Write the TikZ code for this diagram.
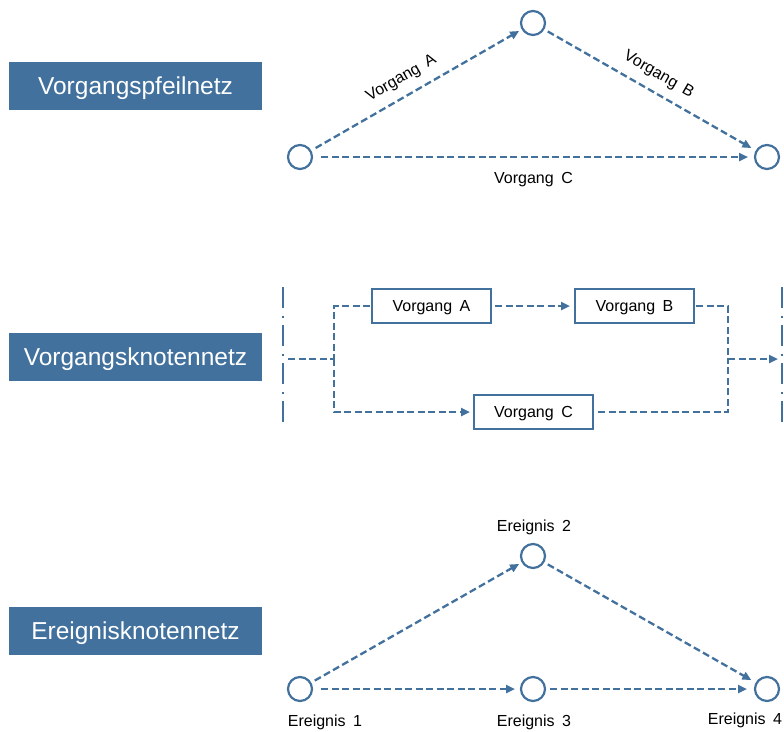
\documentclass[tikz,border=0pt]{standalone}
\usepackage{fontspec}
\setmainfont[WordSpace=1.7]{Liberation Sans}
\usetikzlibrary{arrows.meta}
\definecolor{netblue}{RGB}{66,113,157}
\tikzset{
  x=1pt, y=-1pt,
  titlebox/.style={fill=netblue, text=white, minimum width=253pt, minimum height=48pt,
    inner sep=0pt, text depth=0pt, font=\fontsize{24.5}{28}\selectfont},
  event/.style={circle, draw=netblue, line width=2.2pt, minimum size=24pt, inner sep=0pt, outer sep=0pt},
  taskbox/.style={rectangle, draw=netblue, line width=2.2pt, fill=white, minimum width=119pt,
    minimum height=34pt, inner sep=0pt, outer sep=0pt, text depth=0pt,
    font=\fontsize{16}{19}\selectfont},
  conn/.style={draw=netblue, line width=2.3pt, dash pattern=on 7pt off 3.5pt},
  arr/.style={conn, -{Triangle[length=9pt,width=8pt]}},
  divider/.style={draw=netblue, line width=2.6pt, dash pattern=on 21pt off 7.5pt on 2pt off 7.5pt},
  lbl/.style={inner sep=0pt, font=\fontsize{16}{19}\selectfont, text=black}
}
\begin{document}
\begin{tikzpicture}
\useasboundingbox (0,0) rectangle (784,731);

% section titles
\node[titlebox] (t1) at (135.5,86) {Vorgangspfeilnetz};
\node[titlebox] (t2) at (135.5,357) {Vorgangsknotennetz};
\node[titlebox] (t3) at (135.5,631) {Ereignisknotennetz};

% activity-on-arrow network
\node[event] (p1) at (300,157) {};
\node[event] (p2) at (533,23) {};
\node[event] (p3) at (767,157) {};
\draw[arr, shorten <=6pt, shorten >=4pt] (p1) -- (p2)
  node[lbl, pos=0.47, sloped, above=9pt] {Vorgang A};
\draw[arr, shorten <=5pt, shorten >=6pt] (p2) -- (p3)
  node[lbl, pos=0.5, sloped, above=9pt] {Vorgang B};
\draw[arr, shorten <=9pt, shorten >=7pt] (p1) -- (p3)
  node[lbl, pos=0.5, below=14pt] {Vorgang C};

% activity-on-node network
\coordinate (dl1) at (283,287);
\coordinate (dl2) at (283,426);
\coordinate (dr1) at (782,287);
\coordinate (dr2) at (782,426);
\draw[divider] (dl1) -- (dl2);
\draw[divider] (dr1) -- (dr2);
\node[taskbox] (va) at (431.5,306) {Vorgang A};
\node[taskbox] (vb) at (634.5,306) {Vorgang B};
\node[taskbox] (vc) at (533.5,412) {Vorgang C};
\coordinate (start) at (288,359);
\coordinate (jl) at (334,359);
\coordinate (jr) at (728,359);
\coordinate (finish) at (778,359);
\draw[conn] (start) -- (jl);
\draw[conn] (va.west) ++(-2,0) -| (jl);
\draw[arr, shorten >=4pt] (jl) |- (vc.west);
\draw[arr, shorten <=4pt, shorten >=5pt] (va.east) -- (vb.west);
\draw[conn, shorten <=5pt] (vc.east) -| (jr);
\draw[conn] (vb.east) ++(2,0) -| (jr);
\draw[arr] (jr) -- (finish);

% event-on-node network
\node[event] (e1) at (300,689) {};
\node[event] (e2) at (533,556) {};
\node[event] (e3) at (533,689) {};
\node[event] (e4) at (767,689) {};
\draw[arr, shorten <=5pt, shorten >=4pt] (e1) -- (e2);
\draw[arr, shorten <=5pt, shorten >=6pt] (e2) -- (e4);
\draw[arr, shorten <=9pt, shorten >=6pt] (e1) -- (e3);
\draw[arr, shorten <=5pt, shorten >=8pt] (e3) -- (e4);
\node[lbl] (n1) at (325,722) {Ereignis 1};
\node[lbl] (n2) at (534,527) {Ereignis 2};
\node[lbl] (n3) at (534,722) {Ereignis 3};
\node[lbl] (n4) at (745,720) {Ereignis 4};
\end{tikzpicture}
\end{document}
